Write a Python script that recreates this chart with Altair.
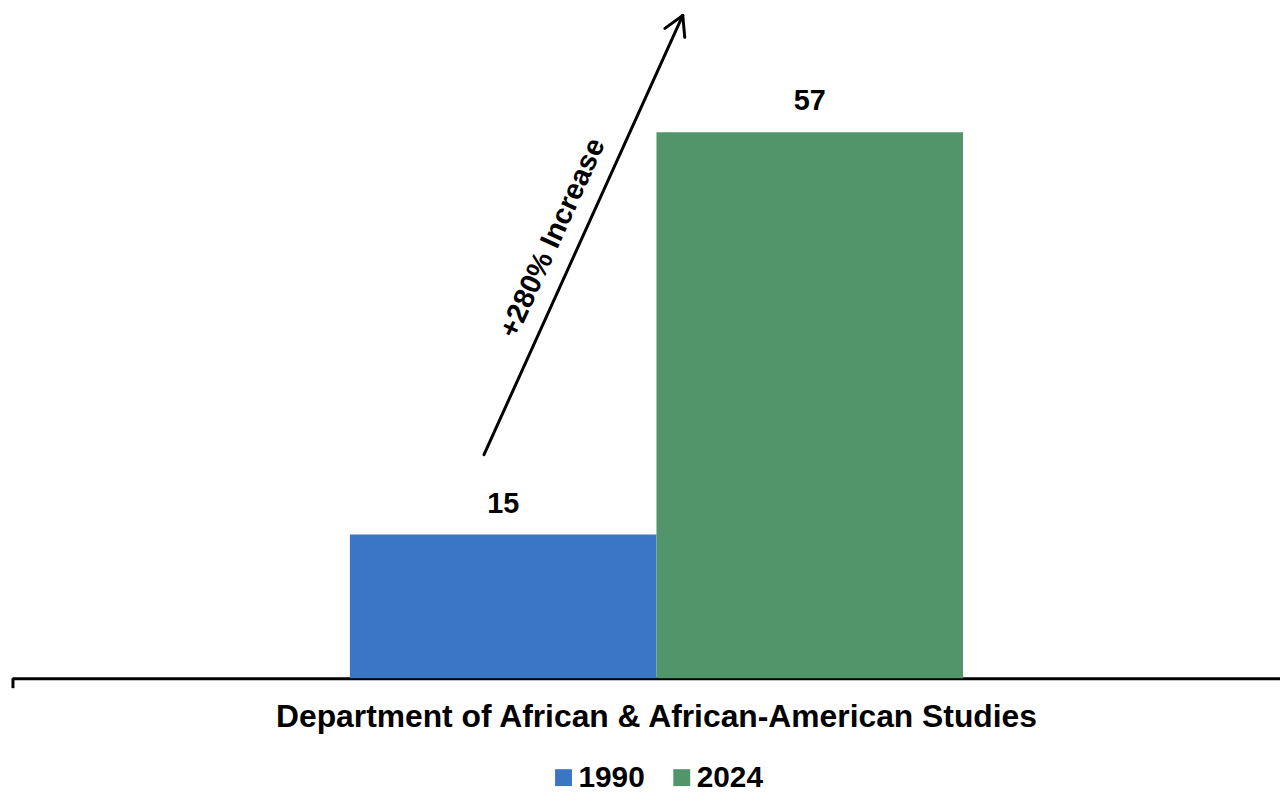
import altair as alt
import pandas as pd

# ---- data ----
category = ["Department of African & African-American Studies"]
years = ["1990", "2024"]
counts = [15, 57]
colors = ["#3A76C4", "#52956A"]
annotation = ["+280% Increase"]

df = pd.DataFrame({"dept": category * len(years), "year": years, "count": counts})
one = pd.DataFrame({"label": annotation})

FONT = "Liberation Sans"

x_enc = alt.X(
    "dept:N",
    scale=alt.Scale(paddingInner=0, paddingOuter=0.534, align=0.516),
    axis=alt.Axis(
        title=None, labelAngle=0, labelFontSize=32, labelFontWeight="bold",
        labelColor="black", labelFont=FONT, ticks=False, labelPadding=24,
        labelLimit=0, domainColor="black", domainWidth=3, grid=False,
    ),
)
xoff = alt.XOffset("year:N", scale=alt.Scale(domain=years, paddingInner=0, paddingOuter=0))
y_enc = alt.Y("count:Q", scale=alt.Scale(domain=[0, 69.7], nice=False), axis=None)

bars = alt.Chart(df).mark_bar().encode(
    x=x_enc,
    xOffset=xoff,
    y=y_enc,
    color=alt.Color(
        "year:N",
        scale=alt.Scale(domain=years, range=colors),
        legend=alt.Legend(
            title=None, orient="none", legendX=540, legendY=757,
            direction="horizontal", symbolType="square", symbolSize=289,
            symbolStrokeWidth=0, labelFontSize=30, labelFontWeight="bold",
            labelFont=FONT, labelColor="black", labelOffset=0,
            columnPadding=22, padding=0,
        ),
    ),
)

labels = alt.Chart(df).mark_text(
    font=FONT, fontSize=29, fontWeight="bold", color="black",
    baseline="alphabetic", dy=-22,
).encode(x=x_enc, xOffset=xoff, y=y_enc, text="count:Q")

arrow_style = dict(color="black", strokeWidth=3, strokeCap="round")
shaft = alt.Chart(one).mark_rule(**arrow_style).encode(
    x=alt.value(475), y=alt.value(447), x2=alt.value(675), y2=alt.value(5)
)
head1 = alt.Chart(one).mark_rule(**arrow_style).encode(
    x=alt.value(675), y=alt.value(5), x2=alt.value(657), y2=alt.value(18)
)
head2 = alt.Chart(one).mark_rule(**arrow_style).encode(
    x=alt.value(675), y=alt.value(5), x2=alt.value(677), y2=alt.value(27)
)
ann = alt.Chart(one).mark_text(
    font=FONT, fontSize=29, fontWeight="bold", color="black",
    angle=294.5, align="center", baseline="middle",
).encode(x=alt.value(544), y=alt.value(229), text="label:N")

tick = alt.Chart(one).mark_rule(color="black", strokeWidth=3).encode(
    x=alt.value(1), y=alt.value(672), y2=alt.value(682)
)

chart = alt.layer(bars, labels, shaft, head1, head2, ann, tick).properties(
    width=1276, height=672,
    autosize=alt.AutoSizeParams(type="none"),
    padding={"left": 4, "top": 0, "right": 0, "bottom": 116},
).configure_view(stroke=None)

chart.save("out.html", embed_options={"renderer": "svg", "actions": False})
